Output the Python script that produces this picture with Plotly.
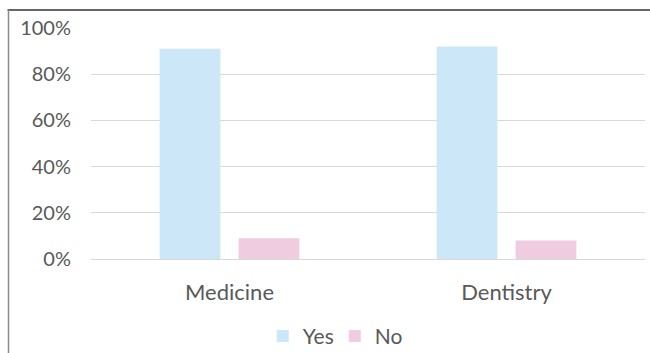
import plotly.graph_objects as go

# Share of respondents answering Yes / No, by faculty
faculties = ["Medicine", "Dentistry"]
yes_share = [0.91, 0.92]
no_share = [0.09, 0.08]
y_ticks = [0, 0.2, 0.4, 0.6, 0.8, 1.0]
y_tick_labels = ["0%", "20%", "40%", "60%", "80%", "100%"]

W, H = 650, 353
L, R, T, B = 91, 5, 28, 94

fig = go.Figure()
fig.add_trace(go.Bar(name="Yes", x=faculties, y=yes_share,
                     marker=dict(color="#CCE8F8", line=dict(width=0))))
fig.add_trace(go.Bar(name="No", x=faculties, y=no_share,
                     marker=dict(color="#EFCCE0", line=dict(width=0))))

font = dict(family="Lato, Open Sans, sans-serif", color="#595959")

fig.update_layout(
    width=W, height=H,
    margin=dict(l=L, r=R, t=T, b=B, autoexpand=False),
    paper_bgcolor="white", plot_bgcolor="white",
    barmode="group", bargap=0.43, bargroupgap=0.23,
    font=dict(size=20, **font),
    showlegend=True,
    legend=dict(orientation="h", x=0.44, xanchor="center",
                y=-0.335, yanchor="middle",
                font=dict(size=21, **font), itemwidth=30,
                entrywidth=27, entrywidthmode="pixels",
                tracegroupgap=0, borderwidth=0,
                traceorder="normal"),
)
fig.update_xaxes(showline=False, ticks="", tickfont=dict(size=22),
                 ticklabelstandoff=18)
fig.update_yaxes(range=[0, 1.0], tickvals=y_ticks, ticktext=y_tick_labels,
                 showgrid=True, gridcolor="#D9D9D9", gridwidth=1.3,
                 zeroline=True, zerolinecolor="#D9D9D9", zerolinewidth=1.3,
                 showline=False, ticks="", ticklabelstandoff=19)

# Frame lines: dark top edge and grey left edge
def px_x(p):
    return (p - L) / (W - L - R)

def px_y(p):
    return (H - B - p) / (H - T - B)

fig.add_shape(type="line", xref="paper", yref="paper",
              x0=px_x(7.5), x1=px_x(651), y0=px_y(10), y1=px_y(10),
              line=dict(color="#333333", width=1.5))
fig.add_shape(type="line", xref="paper", yref="paper",
              x0=px_x(8.5), x1=px_x(8.5), y0=px_y(10), y1=px_y(354),
              line=dict(color="#8A8A8A", width=1.5))

fig.write_html("out.html")
